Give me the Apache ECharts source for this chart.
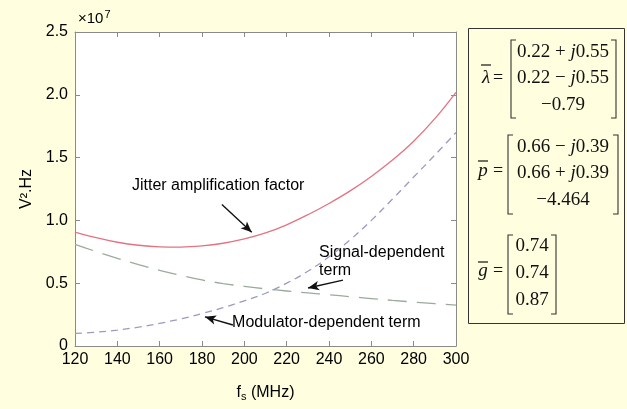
<!DOCTYPE html>
<html><head><meta charset="utf-8">
<script src="https://cdn.jsdelivr.net/npm/echarts@6/dist/echarts.min.js"></script>
<style>html,body{margin:0;padding:0;background:#FFFFE0}#c{width:627px;height:409px}</style>
</head><body><div id="c"></div>
<script>
// frequencies (MHz)
const freqs = [120,130,140,150,160,170,180,190,200,210,220,230,240,250,260,270,280,290,300];
// values in units of 1e7 V^2.Hz
const jitterFactor  = [0.907,0.862,0.826,0.802,0.79,0.788,0.797,0.818,0.852,0.90,0.965,1.045,1.135,1.235,1.35,1.48,1.63,1.81,2.02];
const signalTerm    = [0.81,0.752,0.698,0.648,0.603,0.562,0.526,0.497,0.475,0.455,0.438,0.423,0.408,0.393,0.378,0.363,0.35,0.337,0.325];
const modulatorTerm = [0.10,0.11,0.127,0.15,0.18,0.216,0.258,0.306,0.36,0.42,0.50,0.595,0.71,0.845,1.00,1.17,1.345,1.52,1.70];
const xTicks = {min:120, max:300, step:20};
const yTicks = {min:0, max:2.5, step:0.5};
const annotations = [
  {text:'Jitter amplification factor', at:[146.9,1.278]},
  {text:'Signal-dependent\nterm', at:[235.3,0.675]},
  {text:'Modulator-dependent term', at:[194.2,0.19]}
];
const arrows = [
  {from:[189.4,1.127], to:[203.5,0.905]},
  {from:[246.6,0.524], to:[230.1,0.462]},
  {from:[194.6,0.167], to:[181.4,0.232]}
];
const lambdaRows = [['0.22 + ','j','0.55'],['0.22 \u2212 ','j','0.55'],['\u22120.79','','']];
const pRows = [['0.66 \u2212 ','j','0.39'],['0.66 + ','j','0.39'],['\u22124.464','','']];
const gRows = [['0.74','',''],['0.74','',''],['0.87','','']];

const sans = 'Liberation Sans, Arial, sans-serif';
const serif = 'Liberation Serif, Times New Roman, serif';
const axisCol = '#8a8a8a';
const pairs = arr => freqs.map((f,i)=>[f, arr[i]]);

const chart = echarts.init(document.getElementById('c'), null, {renderer:'canvas'});

function xAx(pos, main){
  return {type:'value', min:xTicks.min, max:xTicks.max, interval:xTicks.step, position:pos,
    axisLine:{show:true, onZero:false, lineStyle:{color:axisCol, width:1}},
    axisTick:{show:true, inside:true, length:5, lineStyle:{color:axisCol}},
    axisLabel:{show:main, color:'#000', fontSize:16, fontFamily:sans, margin:6},
    splitLine:{show:false},
    name: main ? '{a|f}{s|s}{a| (MHz)}' : '', nameLocation:'middle', nameGap:37,
    nameTextStyle:{rich:{a:{fontSize:16, fontFamily:sans, color:'#000'}, s:{fontSize:11, fontFamily:sans, color:'#000', padding:[8,0,0,0]}}}
  };
}
function yAx(pos, main){
  return {type:'value', min:yTicks.min, max:yTicks.max, interval:yTicks.step, position:pos,
    axisLine:{show:true, onZero:false, lineStyle:{color:axisCol, width:1}},
    axisTick:{show:true, inside:true, length:5, lineStyle:{color:axisCol}},
    axisLabel:{show:main, color:'#000', fontSize:16, fontFamily:sans, margin:7,
      formatter: v => v===0 ? '0' : v.toFixed(1)},
    splitLine:{show:false},
    name: main ? 'V\u00b2.Hz' : '', nameLocation:'middle', nameGap:33, nameRotate:90,
    nameTextStyle:{fontSize:16, fontFamily:sans, color:'#000'}
  };
}

chart.setOption({
  animation:false,
  backgroundColor:'#FFFFE0',
  grid:{left:75, right:171, top:32, bottom:63, show:true, backgroundColor:'#fff', borderWidth:0},
  xAxis:[xAx('bottom', true), xAx('top', false)],
  yAxis:[yAx('left', true), yAx('right', false)],
  series:[
    {type:'line', name:'Jitter amplification factor', data:pairs(jitterFactor), smooth:0.4, showSymbol:false,
     lineStyle:{color:'#e27382', width:1.3},
     markLine:{silent:true, symbol:['none','arrow'], symbolSize:[7,11], animation:false,
       lineStyle:{color:'#111', width:1.4, type:'solid'}, label:{show:false},
       data: arrows.map(a=>[{coord:a.from},{coord:a.to}])}},
    {type:'line', name:'Signal-dependent term', data:pairs(signalTerm), smooth:0.4, showSymbol:false,
     lineStyle:{color:'#9aab9c', width:1.3, type:[19,10]}},
    {type:'line', name:'Modulator-dependent term', data:pairs(modulatorTerm), smooth:0.4, showSymbol:false,
     lineStyle:{color:'#9b9bbd', width:1.3, type:[7,5]}}
  ]
});

// graphics: annotations, exponent, matrix box
const g = [];
annotations.forEach(a=>{
  const p = chart.convertToPixel({gridIndex:0}, a.at);
  g.push({type:'text', x:p[0], y:p[1], style:{text:a.text, font:'16px '+sans, fill:'#000', lineHeight:18,
    textAlign:'left', textVerticalAlign:'middle', align:'left', verticalAlign:'middle'}});
});
g.push({type:'text', x:78, y:19, style:{text:'{a|\u00d710}{b|7}', textVerticalAlign:'middle', verticalAlign:'middle',
  rich:{a:{fontSize:15, fontFamily:sans, fill:'#000'}, b:{fontSize:11, fontFamily:sans, fill:'#000', padding:[0,0,9,1]}}}});

// matrix panel
g.push({type:'rect', shape:{x:468.5, y:28.5, width:156, height:295}, style:{fill:'none', stroke:'#333', lineWidth:1}});
function bracket(xl, xr, top, bot){
  const s = {stroke:'#333', lineWidth:1.1, fill:'none'};
  g.push({type:'polyline', shape:{points:[[xl+5,top],[xl,top],[xl,bot],[xl+5,bot]]}, style:s});
  g.push({type:'polyline', shape:{points:[[xr-5,top],[xr,top],[xr,bot],[xr-5,bot]]}, style:s});
}
function rows(list, cx, ys){
  list.forEach((r,i)=>{
    g.push({type:'text', x:cx, y:ys[i], style:{text:'{n|'+r[0]+'}'+(r[1]?'{i|'+r[1]+'}{n|'+r[2]+'}':''),
      textAlign:'center', align:'center', textVerticalAlign:'middle', verticalAlign:'middle',
      rich:{n:{fontSize:19, fontFamily:serif, fill:'#111'}, i:{fontSize:19, fontFamily:serif, fontStyle:'italic', fill:'#111'}}}});
  });
}
function sym(ch, cx, cy, barY){
  g.push({type:'text', x:cx, y:cy, style:{text:ch, font:'italic 19px '+serif, fill:'#111',
    textAlign:'center', align:'center', textVerticalAlign:'middle', verticalAlign:'middle'}});
  g.push({type:'line', shape:{x1:cx-5, y1:barY, x2:cx+5, y2:barY}, style:{stroke:'#111', lineWidth:1.2}});
  g.push({type:'text', x:498, y:cy, style:{text:'=', font:'18px '+serif, fill:'#111',
    textAlign:'center', align:'center', textVerticalAlign:'middle', verticalAlign:'middle'}});
}
sym('\u03bb', 486, 78, 65);
bracket(511, 616, 40, 118);
rows(lambdaRows, 563, [52,78,105]);
sym('p', 483, 171, 161);
bracket(508, 618, 135, 214);
rows(pRows, 563, [147,173,200]);
sym('g', 483, 271, 262);
bracket(508, 556, 235, 314);
rows(gRows, 532, [246,273,300]);

chart.setOption({graphic:g});
</script></body></html>
